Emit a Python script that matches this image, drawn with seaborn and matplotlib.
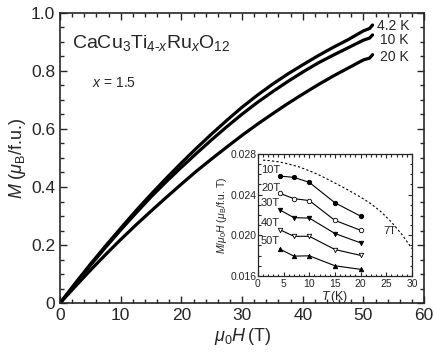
import numpy as np
import pandas as pd
import matplotlib
matplotlib.use('Agg')
import matplotlib.pyplot as plt
from matplotlib.ticker import MultipleLocator, FixedFormatter, FixedLocator
import seaborn as sns

sns.set_style('ticks')
plt.rcParams['font.family'] = ['Liberation Sans', 'DejaVu Sans']
plt.rcParams['mathtext.fontset'] = 'custom'
plt.rcParams['mathtext.rm'] = 'Liberation Sans'
plt.rcParams['mathtext.it'] = 'Liberation Sans:italic'

# Main panel: M vs field
field = [0, 2.5, 5, 7.5, 10, 12.5, 15, 17.5, 20, 22.5, 25, 27.5, 30, 32.5, 35,
         37.5, 40, 42.5, 45, 47.5, 50, 51.0, 51.5]
m_4K = [0, 0.068, 0.134, 0.197, 0.258, 0.318, 0.375, 0.430, 0.483, 0.534, 0.583,
        0.630, 0.675, 0.716, 0.754, 0.789, 0.821, 0.852, 0.881, 0.908, 0.938, 0.946, 0.958]
m_10K = [0, 0.066, 0.130, 0.192, 0.252, 0.310, 0.366, 0.418, 0.468, 0.516, 0.563,
         0.608, 0.651, 0.691, 0.728, 0.763, 0.796, 0.827, 0.854, 0.880, 0.906, 0.913, 0.924]
m_20K = [0, 0.057, 0.113, 0.167, 0.219, 0.269, 0.317, 0.364, 0.410, 0.455, 0.497,
         0.538, 0.578, 0.616, 0.652, 0.687, 0.720, 0.752, 0.782, 0.810, 0.838, 0.844, 0.856]
curve_labels = ['4.2 K', '10 K', '20 K']

# Inset: M/H vs T at several fields
temps = [4.2, 7, 10, 15, 20]
chi_10T = [0.02582, 0.02569, 0.0252, 0.02319, 0.02188]
chi_20T = [0.02413, 0.0236, 0.02341, 0.02146, 0.02049]
chi_30T = [0.02251, 0.02173, 0.02169, 0.02017, 0.01925]
chi_40T = [0.02056, 0.0199, 0.0199, 0.0186, 0.01802]
chi_50T = [0.01866, 0.01795, 0.01798, 0.0170, 0.01665]
field_labels = ['10T', '20T', '30T', '40T', '50T']
t_7T = [1, 2, 4, 6, 8, 10, 12, 14, 16, 18, 20, 22, 24, 26, 28, 30]
chi_7T = [0.02738, 0.02735, 0.02722, 0.02700, 0.02672, 0.02634, 0.02590, 0.02540,
          0.02487, 0.02432, 0.02375, 0.02310, 0.02230, 0.02130, 0.02010, 0.01870]

fig = plt.figure(figsize=(4.35, 3.57), dpi=100)
ax = fig.add_axes([0.138, 0.151, 0.837, 0.813])

for m in [m_4K, m_10K, m_20K]:
    sns.lineplot(x=field, y=m, ax=ax, color='black', lw=2.3, estimator=None, sort=False)

ax.set_xlim(0, 60)
ax.set_ylim(0, 1.0)
ax.xaxis.set_major_locator(MultipleLocator(10))
ax.xaxis.set_minor_locator(MultipleLocator(2))
ax.yaxis.set_major_locator(FixedLocator([0, 0.2, 0.4, 0.6, 0.8, 1.0]))
ax.yaxis.set_major_formatter(FixedFormatter(['0', '0.2', '0.4', '0.6', '0.8', '1.0']))
ax.yaxis.set_minor_locator(MultipleLocator(0.05))
ax.tick_params(which='both', direction='in', top=True, right=True, labelsize=12.5, width=1)
ax.tick_params(which='major', length=5)
ax.tick_params(which='minor', length=3)
for s in ax.spines.values():
    s.set_linewidth(1.2)
ax.set_xlabel(r'$\mu_0H\,$(T)', fontsize=13, labelpad=2)
ax.set_ylabel(r'$M$ ($\mu_\mathrm{B}$/f.u.)', fontsize=13, labelpad=2)

ax.text(2.0, 0.88, r'CaCu$_3$Ti$_{4\text{-}x}$Ru$_x$O$_{12}$', fontsize=14)
ax.text(5.2, 0.745, r'$x$ = 1.5', fontsize=10)
for lab, yy, xx in zip(curve_labels, [0.955, 0.905, 0.848], [52.3, 52.8, 52.8]):
    ax.text(xx, yy, lab, fontsize=10, va='center')

# inset
ins = fig.add_axes([0.593, 0.227, 0.354, 0.342])
markers = ['o', 'o', 'v', 'v', '^']
fills = ['black', 'white', 'black', 'white', 'black']
for chi, mk, fc in zip([chi_10T, chi_20T, chi_30T, chi_40T, chi_50T], markers, fills):
    sns.lineplot(x=temps, y=chi, ax=ins, color='black', lw=0.8, marker=mk, markersize=3.2,
                 markerfacecolor=fc, markeredgecolor='black', markeredgewidth=0.6, estimator=None)
sns.lineplot(x=t_7T, y=chi_7T, ax=ins, color='black', lw=0.8, linestyle=(0, (2, 2)), estimator=None)

ins.set_xlim(0, 30)
ins.set_ylim(0.016, 0.028)
ins.xaxis.set_major_locator(MultipleLocator(5))
ins.xaxis.set_minor_locator(MultipleLocator(1))
ins.yaxis.set_major_locator(FixedLocator([0.016, 0.020, 0.024, 0.028]))
ins.yaxis.set_major_formatter(FixedFormatter(['0.016', '0.020', '0.024', '0.028']))
ins.yaxis.set_minor_locator(MultipleLocator(0.001))
ins.tick_params(which='both', direction='in', top=True, right=True, labelsize=7.5, width=0.8, pad=1)
ins.tick_params(axis='x', which='both', pad=2.5)
ins.tick_params(which='major', length=3)
ins.tick_params(which='minor', length=1.8)
for s in ins.spines.values():
    s.set_linewidth(0.9)
ins.set_xlabel(r'$T\,$(K)', fontsize=9, labelpad=0)
ins.set_ylabel(r'$M/\mu_0H$ ($\mu_\mathrm{B}$/f.u. T)', fontsize=7.5, labelpad=1)

for lab, yy in zip(field_labels, [0.0259, 0.0242, 0.0227, 0.0207, 0.0189]):
    ins.text(0.6, yy, lab, fontsize=8, va='bottom')
ins.text(24.5, 0.0201, '7T', fontsize=8)

fig.savefig('out.png', dpi=100)
